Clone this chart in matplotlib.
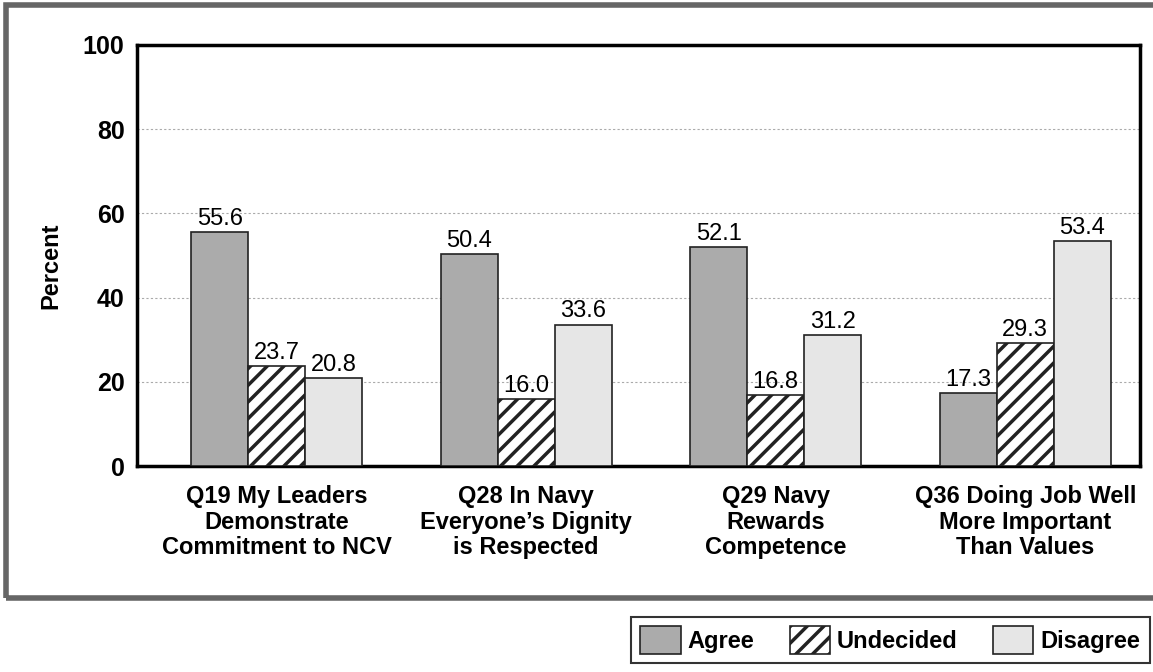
import numpy as np
import matplotlib.pyplot as plt
from matplotlib.patches import Rectangle

# --------------------------
# Data
# --------------------------
categories = [
    "Q19 My Leaders\nDemonstrate\nCommitment to NCV",
    "Q28 In Navy\nEveryone\u2019s Dignity\nis Respected",
    "Q29 Navy\nRewards\nCompetence",
    "Q36 Doing Job Well\nMore Important\nThan Values",
]
agree = [55.6, 50.4, 52.1, 17.3]
undecided = [23.7, 16.0, 16.8, 29.3]
disagree = [20.8, 33.6, 31.2, 53.4]
series_names = ["Agree", "Undecided", "Disagree"]

plt.rcParams['font.family'] = ['Liberation Sans', 'DejaVu Sans']
plt.rcParams['hatch.color'] = '#666666'
plt.rcParams['hatch.linewidth'] = 2.5

fig = plt.figure(figsize=(11.53, 6.72), dpi=100)
ax = fig.add_axes([137 / 1153, 1 - 466 / 672, 1003 / 1153, 421 / 672])

x = np.arange(len(categories))
w = 0.228
styles = [
    dict(color='#ababab', hatch=None),
    dict(color='white', hatch='//'),
    dict(color='#e6e6e6', hatch=None),
]
for i, (vals, st) in enumerate(zip([agree, undecided, disagree], styles)):
    bars = ax.bar(x + (i - 1) * w, vals, w, color=st['color'], hatch=st['hatch'],
                  edgecolor='#222222', linewidth=1.2, label=series_names[i], zorder=3)
    for b, v in zip(bars, vals):
        ax.text(b.get_x() + b.get_width() / 2, v + 0.5, f"{v:.1f}",
                ha='center', va='bottom', fontsize=17, zorder=4)

ax.set_xlim(-0.56, 3.46)
ax.set_ylim(0, 100)
ax.set_yticks([0, 20, 40, 60, 80, 100])
ax.set_yticklabels(['0', '20', '40', '60', '80', '100'], fontsize=18, fontweight='bold')
ax.set_xticks(x)
ax.set_xticklabels(categories, fontsize=17, fontweight='bold', linespacing=1.12)
ax.tick_params(axis='y', length=0, pad=9)
ax.tick_params(axis='x', length=0, pad=14)
ax.set_ylabel("Percent", fontsize=17, fontweight='bold')
ax.yaxis.set_label_coords(-0.074, 0.475)
ax.yaxis.grid(True, linestyle=(0, (2, 2)), color='#aaaaaa', linewidth=0.8, zorder=0)
for s in ax.spines.values():
    s.set_linewidth(2.5)
    s.set_color('black')

# outer frame around the chart area (right side runs off the page)
fig.patches.append(Rectangle((6 / 1153, 1 - 598 / 672), 1160 / 1153, 593 / 672,
                             transform=fig.transFigure, fill=False,
                             edgecolor='#666666', linewidth=4))

leg = fig.legend(loc='upper left', bbox_to_anchor=(631 / 1153, 1 - 617 / 672), ncol=3,
                 prop=dict(size=17, weight='bold'), frameon=True, fancybox=False,
                 edgecolor='black', handlelength=1.7, handleheight=1.4,
                 handletextpad=0.3, columnspacing=1.5, borderpad=0.4,
                 borderaxespad=0)
leg.get_frame().set_linewidth(1.5)

fig.savefig("out.png", dpi=100)
